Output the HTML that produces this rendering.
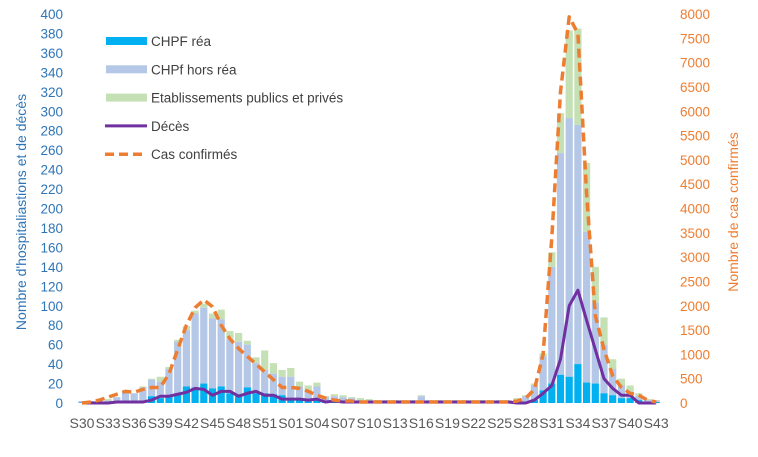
<!DOCTYPE html>
<html><head><meta charset="utf-8"><style>
body{margin:0;background:#fff;}
svg{display:block;font-family:"Liberation Sans",sans-serif;}
</style></head><body>
<svg id="c" width="758" height="457" viewBox="0 0 758 457"></svg>
<script>
const s=document.getElementById('c');let h='';
const Y0=403,K=0.9725,X0=82,DX=8.7;
const y=v=>Y0-v*K, x=i=>X0+DX*i;
const tot=new Array(67).fill(3), lb=new Array(67).fill(2.5), bl=new Array(67).fill(0.5);
const T={0:2,1:2,2:3,3:4,4:6,5:13,6:10,7:17,8:25,9:27,10:37,11:65,12:79,13:95,14:102,15:92,16:96,17:74,18:72,19:64,20:47,21:54,22:41,23:34,24:36,25:22,26:18,27:21,28:7,29:9,30:8,31:6,32:5,33:4,39:8,50:5,51:8,52:20,53:51,54:155,55:298,56:383,57:385,58:247,59:140,60:88,61:45,62:25,63:18,64:10,65:4,66:3};
const L={4:6,5:12,6:10,7:16,8:24,9:22,10:35,11:63,12:75,13:92,14:98,15:87,16:86,17:66,18:63,19:60,20:41,21:34,22:30,23:27,24:27,25:17,26:13,27:17,28:6,29:7,30:6,31:5,39:7,51:7,52:18,53:48,54:140,55:257,56:293,57:286,58:176,59:103,60:60,61:35,62:18,63:12,64:7,65:3,66:2.5};
const B={8:7,9:5,10:8,11:10,12:17,13:16,14:20,15:15,16:17,17:10,18:9,19:16,20:10,21:10,22:9,23:8,24:5,25:4,26:3,27:3,52:3,53:13,54:20,55:29,56:27,57:40,58:21,59:20,60:10,61:8,62:5,63:5,64:3,65:1,66:1};
for(const k in T)tot[k]=T[k];for(const k in L)lb[k]=L[k];for(const k in B)bl[k]=B[k];
for(let i=0;i<67;i++){const cx=x(i),w=7.2,l=cx-w/2;
 if(lb[i]>tot[i])lb[i]=tot[i];
 h+=`<rect x="${l}" y="${y(tot[i])}" width="${w}" height="${(tot[i]-lb[i])*K}" fill="#c5e0b4"/>`;
 h+=`<rect x="${l}" y="${y(lb[i])}" width="${w}" height="${(lb[i]-bl[i])*K}" fill="#b4c7e7"/>`;
 h+=`<rect x="${l}" y="${y(bl[i])}" width="${w}" height="${bl[i]*K}" fill="#00b0f0"/>`;}
const D=[0,0,0,0,1,1,1,1,3,7,7,9,11,15,14,8,12,12,7,10,12,8,8,4,4,4,3,4,1,2,1,1,1,1,1,1,1,1,1,1,1,1,1,1,1,1,1,1,1,1,0,0,3,10,18,45,100,116,85,55,25,15,8,8,0,0,0];
let p=D.map((v,i)=>`${x(i)},${y(v)}`).join(' ');
h+=`<polyline points="${p}" fill="none" stroke="#7030a0" stroke-width="3" stroke-linejoin="round"/>`;
const C=[0,1,3,6,9,12,11,14,16,16,30,55,80,98,106,99,80,66,56,48,40,32,24,16,16,15,12,8,5,3,2,2,1,1,1,1,1,1,1,1,1,1,1,1,1,1,1,1,1,1,2,5,14,50,170,320,397,380,215,90,55,28,16,10,8,3,1];
p=C.map((v,i)=>`${x(i)},${y(v)}`).join(' ');
h+=`<polyline points="${p}" fill="none" stroke="#ed7d31" stroke-width="3.5" stroke-dasharray="9,5" stroke-linejoin="round"/>`;
for(let v=0;v<=400;v+=20){h+=`<text x="63" y="${y(v)+5}" font-size="13.5" fill="#2e75b6" text-anchor="end">${v}</text>`;}
for(let v=0;v<=8000;v+=500){h+=`<text x="680" y="${y(v/20)+5}" font-size="13.5" fill="#ed7d31">${v}</text>`;}
const labs=['S30','S33','S36','S39','S42','S45','S48','S51','S01','S04','S07','S10','S13','S16','S19','S22','S25','S28','S31','S34','S37','S40','S43'];
labs.forEach((t,j)=>{h+=`<text x="${x(j*3)}" y="428" font-size="13.5" fill="#595959" text-anchor="middle" textLength="25" lengthAdjust="spacingAndGlyphs">${t}</text>`;});
h+=`<text transform="translate(26,212) rotate(-90)" font-size="14" fill="#2e75b6" text-anchor="middle">Nombre d'hospitaliastions et de décès</text>`;
h+=`<text transform="translate(738,212) rotate(-90)" font-size="14" fill="#ed7d31" text-anchor="middle">Nombre de cas confirmés</text>`;
const lg=[['CHPF réa','#00b0f0','r'],['CHPf hors réa','#b4c7e7','r'],['Etablissements publics et privés','#c5e0b4','r'],['Décès','#7030a0','l'],['Cas confirmés','#ed7d31','d']];
lg.forEach((e,j)=>{const yy=41+j*28.3;
 if(e[2]=='r')h+=`<rect x="106" y="${yy-4}" width="41" height="8" fill="${e[1]}"/>`;
 else if(e[2]=='l')h+=`<line x1="105" y1="${yy}" x2="147" y2="${yy}" stroke="${e[1]}" stroke-width="3"/>`;
 else h+=`<line x1="105" y1="${yy}" x2="147" y2="${yy}" stroke="${e[1]}" stroke-width="3.5" stroke-dasharray="9,5"/>`;
 h+=`<text x="151" y="${yy+5}" font-size="13.5" fill="#404040">${e[0]}</text>`;});
s.innerHTML=h;
</script>
</body></html>
